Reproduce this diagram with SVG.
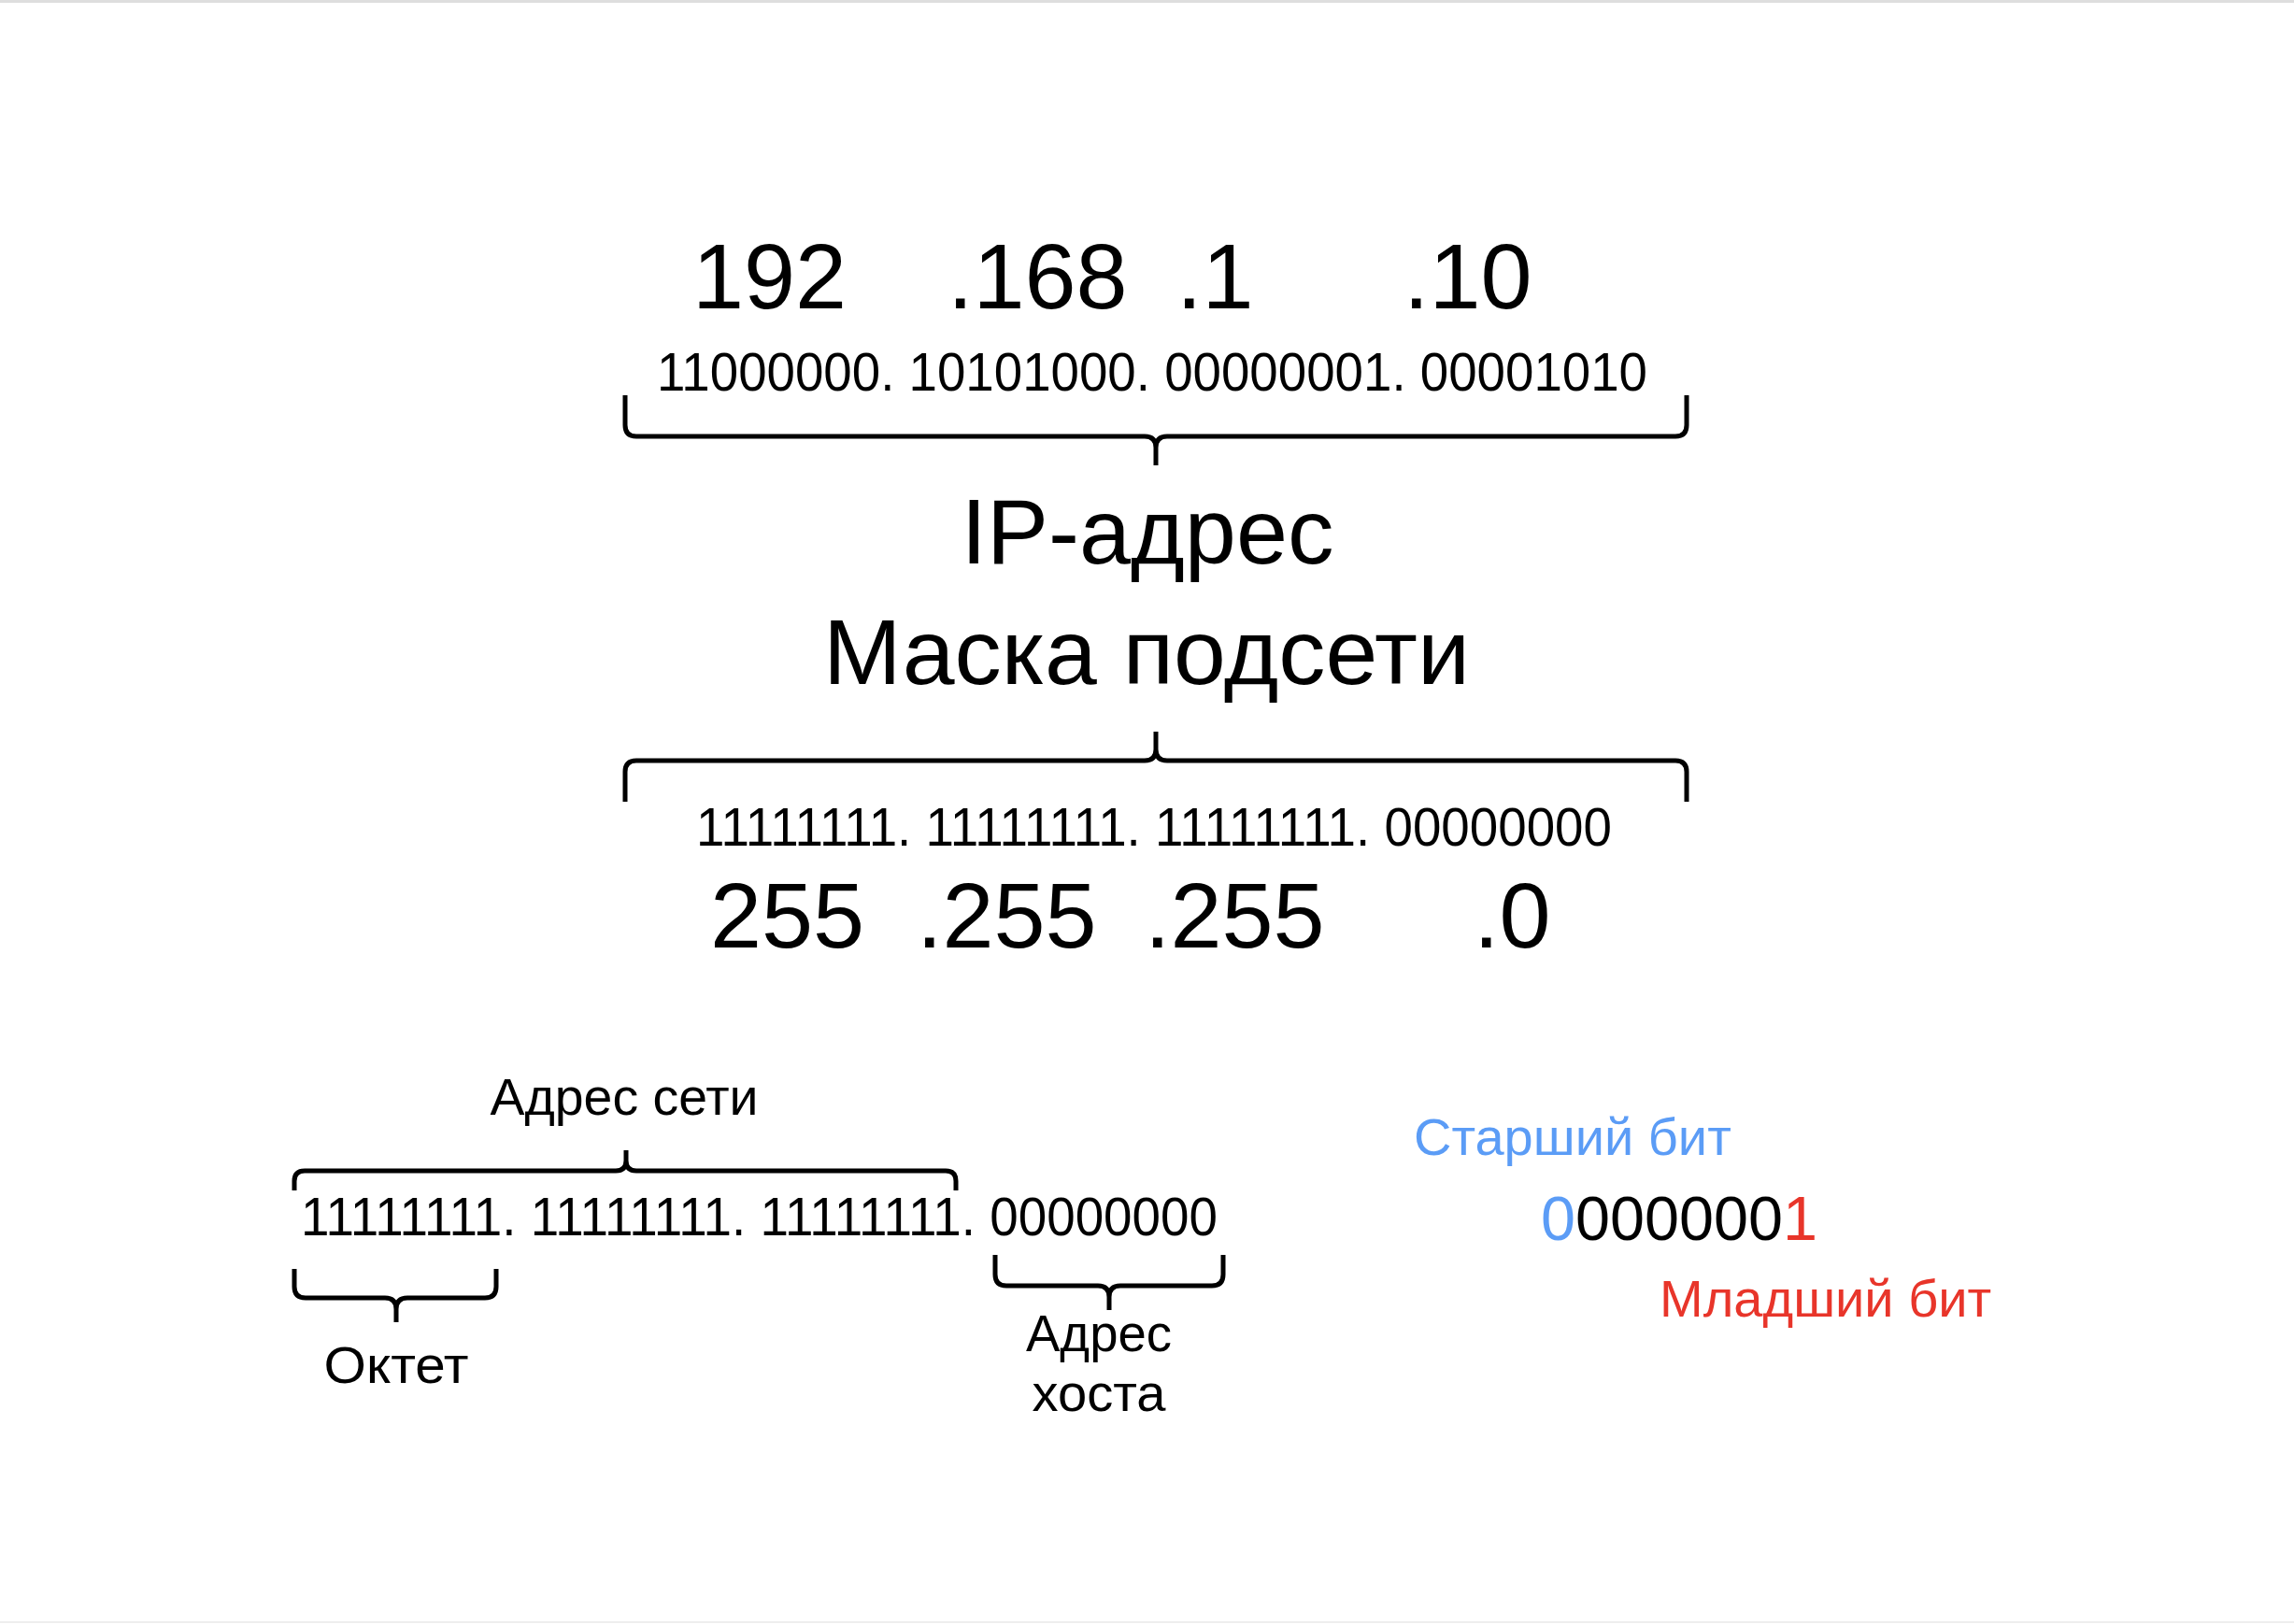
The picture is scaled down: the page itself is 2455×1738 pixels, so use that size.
<svg xmlns="http://www.w3.org/2000/svg" width="2455" height="1738" viewBox="0 0 2455 1738">
<style>
text{font-family:"Liberation Sans",Arial,Helvetica,sans-serif;fill:#000}
.big{font-size:99px}
.bin{font-size:57px}
.lbl{font-size:56px}
.brace{fill:none;stroke:#000;stroke-width:5;stroke-linecap:butt;stroke-linejoin:round}
.blue{fill:#5b9cf6}
.red{fill:#e8352a}
</style>
<rect x="0" y="0" width="2455" height="1738" fill="#fff"/>
<rect x="0" y="0" width="2455" height="3" fill="#dedede"/>
<rect x="0" y="1735" width="2455" height="2" fill="#eeeeee"/>

<g id="ip-decimal">
<text class="big" x="741" y="330">192</text>
<text class="big" x="1014" y="330">.168</text>
<text class="big" x="1259" y="330">.1</text>
<text class="big" x="1502" y="330">.10</text>
</g>
<g id="ip-binary">
<text class="bin" x="703" y="418" textLength="1060" lengthAdjust="spacingAndGlyphs">11000000. 10101000. 00000001. 00001010</text>
</g>
<g id="ip-label">
<text class="big" x="1228" y="603" text-anchor="middle">IP-адрес</text>
</g>
<g id="mask-label">
<text class="big" x="1227" y="732" text-anchor="middle" textLength="692" lengthAdjust="spacingAndGlyphs">Маска подсети</text>
</g>
<g id="mask-binary">
<text class="bin" x="745" y="905" textLength="980" lengthAdjust="spacingAndGlyphs">11111111. 11111111. 11111111. 00000000</text>
</g>
<g id="mask-decimal">
<text class="big" x="760" y="1014">255</text>
<text class="big" x="981" y="1014">.255</text>
<text class="big" x="1225" y="1014">.255</text>
<text class="big" x="1577" y="1014">.0</text>
</g>

<g id="network-label">
<text class="lbl" x="668" y="1193" text-anchor="middle" textLength="287" lengthAdjust="spacingAndGlyphs">Адрес сети</text>
</g>
<g id="example-binary">
<text class="bin" x="322" y="1322" textLength="981" lengthAdjust="spacingAndGlyphs">11111111. 11111111. 11111111. 00000000</text>
</g>
<g id="octet-label">
<text class="lbl" x="424" y="1480" text-anchor="middle" textLength="155" lengthAdjust="spacingAndGlyphs">Октет</text>
</g>
<g id="host-label">
<text class="lbl" x="1176" y="1446" text-anchor="middle" textLength="156" lengthAdjust="spacingAndGlyphs">Адрес</text>
<text class="lbl" x="1176" y="1510" text-anchor="middle" textLength="143" lengthAdjust="spacingAndGlyphs">хоста</text>
</g>

<g id="msb-label">
<text class="lbl blue" x="1513" y="1236">Старший бит</text>
</g>
<g id="byte-example">
<text x="1649" y="1327" style="font-size:66px" textLength="296" lengthAdjust="spacingAndGlyphs"><tspan class="blue">0</tspan>000000<tspan class="red">1</tspan></text>
</g>
<g id="lsb-label">
<text class="lbl red" x="1776" y="1409">Младший бит</text>
</g>

<g id="connectors">
<path class="brace" d="M669,423 V455 Q669,467 681,467 H1225 Q1237,467 1237,479 V498 M1237,479 Q1237,467 1249,467 H1793 Q1805,467 1805,455 V423"/>
<path class="brace" d="M669,858 V826 Q669,814 681,814 H1225 Q1237,814 1237,802 V783 M1237,802 Q1237,814 1249,814 H1793 Q1805,814 1805,826 V858"/>
<path class="brace" d="M315,1274 V1264 Q315,1253 326,1253 H659 Q670,1253 670,1242 V1231 M670,1242 Q670,1253 681,1253 H1012 Q1023,1253 1023,1264 V1274"/>
<path class="brace" d="M315,1358 V1377 Q315,1389 327,1389 H412 Q424,1389 424,1401 V1415 M424,1401 Q424,1389 436,1389 H519 Q531,1389 531,1377 V1358"/>
<path class="brace" d="M1065,1343 V1364 Q1065,1376 1077,1376 H1175 Q1187,1376 1187,1388 V1402 M1187,1388 Q1187,1376 1199,1376 H1297 Q1309,1376 1309,1364 V1343"/>
</g>
</svg>
